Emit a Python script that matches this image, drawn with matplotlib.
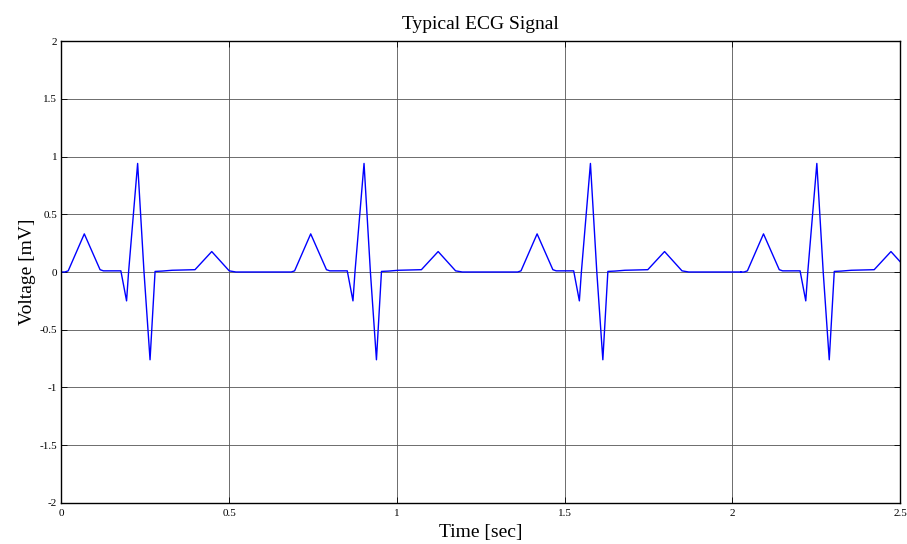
import matplotlib
matplotlib.use("Agg")
import matplotlib.pyplot as plt
import numpy as np

# One heartbeat (time offset within beat [s], voltage [mV])
beat_t = [0.000, 0.010, 0.020, 0.068, 0.115, 0.125, 0.177, 0.194, 0.200, 0.227,
          0.246, 0.264, 0.279, 0.300, 0.330, 0.398, 0.448, 0.500, 0.520, 0.675]
beat_v = [0.000, 0.000, 0.010, 0.330, 0.020, 0.010, 0.010, -0.250, 0.000, 0.940,
          0.000, -0.760, 0.005, 0.008, 0.015, 0.020, 0.177, 0.010, 0.000, 0.000]
# Beat onset times
beat_starts = [0.0, 0.675, 1.350, 2.025]

x_ticks = [0, 0.5, 1, 1.5, 2, 2.5]
x_tick_labels = ["0", "0.5", "1", "1.5", "2", "2.5"]
y_ticks = [-2, -1.5, -1, -0.5, 0, 0.5, 1, 1.5, 2]
y_tick_labels = ["-2", "-1.5", "-1", "-0.5", "0", "0.5", "1", "1.5", "2"]

t_all, v_all = [], []
for s in beat_starts:
    for bt, bv in zip(beat_t, beat_v):
        t_all.append(s + bt)
        v_all.append(bv)
t_all = np.array(t_all)
v_all = np.array(v_all)
mask = t_all <= 2.5
t_plot = list(t_all[mask]) + [2.5]
v_plot = list(v_all[mask]) + [float(np.interp(2.5, t_all, v_all))]

plt.rcParams['font.family'] = ['Liberation Serif', 'DejaVu Serif']

fig = plt.figure(figsize=(9.07, 5.44), dpi=100)
ax = fig.add_axes([0.0678, 0.0754, 0.9245, 0.8492])
ax.plot(t_plot, v_plot, color=(0, 0, 1), linewidth=1.0)
ax.set_xlim(0, 2.5)
ax.set_ylim(-2, 2)
ax.set_xticks(x_ticks)
ax.set_xticklabels(x_tick_labels)
ax.set_yticks(y_ticks)
ax.set_yticklabels(y_tick_labels)
ax.grid(True, color='#555555', linewidth=0.6)
ax.tick_params(direction='in', top=True, right=True, labelsize=8, length=4, width=0.6)
ax.tick_params(axis='x', pad=4)
ax.tick_params(axis='y', pad=3)
for sp in ax.spines.values():
    sp.set_linewidth(1.0)
ax.set_title("Typical ECG Signal", fontsize=14, pad=8.5)
ax.set_xlabel("Time [sec]", fontsize=14, labelpad=5)
ax.set_ylabel("Voltage [mV]", fontsize=14, labelpad=2.5)
fig.savefig("out.png", dpi=100)
